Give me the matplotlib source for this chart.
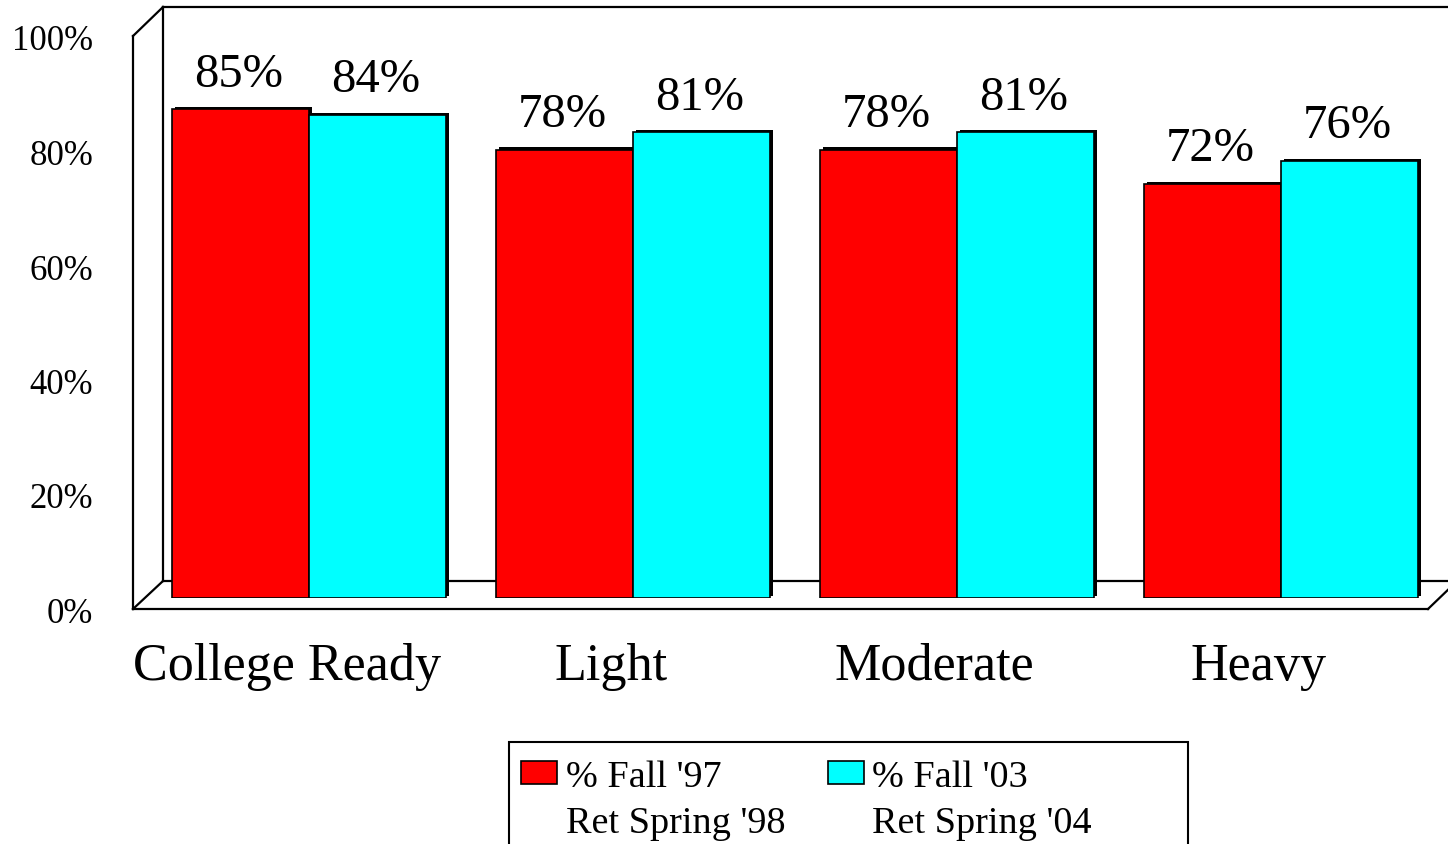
import matplotlib
matplotlib.use("Agg")
import matplotlib.pyplot as plt
import matplotlib.patheffects as pe
from matplotlib.lines import Line2D
from matplotlib.patches import Rectangle
import numpy as np

categories = ["College Ready", "Light", "Moderate", "Heavy"]
fall97 = [85, 78, 78, 72]
fall03 = [84, 81, 81, 76]
series_labels = ["% Fall '97\nRet Spring '98", "% Fall '03\nRet Spring '04"]
series_colors = ["#FF0000", "#00FFFF"]
yticks = [0, 20, 40, 60, 80, 100]
ytick_labels = ["0%", "20%", "40%", "60%", "80%", "100%"]

W, H = 1448, 845
plt.rcParams["font.family"] = ["Liberation Serif", "DejaVu Serif"]
fig = plt.figure(figsize=(W / 100, H / 100), dpi=100)


def fx(x):
    return x / W


def fy(y):
    return 1 - y / H


def fline(xs, ys, z, lw=1.6):
    fig.add_artist(Line2D([fx(v) for v in xs], [fy(v) for v in ys],
                          transform=fig.transFigure, color="black",
                          lw=lw, zorder=z, solid_capstyle="projecting"))


# back wall and floor (behind the bars)
fline([163, 163], [8, 582], -1)
fline([163, W + 5], [8, 8], -1)
fline([163, W + 5], [582, 582], -1)
fline([133, 163], [610, 582], -1)
fline([133, 163], [37, 8], -1)

# bar plane axes
ax = fig.add_axes([fx(147), fy(599), fx(1443) - fx(147), (599 - 24) / H])
ax.set_xlim(-0.5, 3.5)
ax.set_ylim(0, 100)
ax.patch.set_alpha(0)
for s in ax.spines.values():
    s.set_visible(False)
ax.set_xticks([])
ax.set_yticks([])

x = np.arange(len(categories))
w = 137 / 324
shadow = [pe.SimplePatchShadow(offset=(1.8, 1.8), shadow_rgbFace="black", alpha=1.0),
          pe.Normal()]
for vals, off, col in [(fall97, -w / 2, series_colors[0]), (fall03, w / 2, series_colors[1])]:
    bars = ax.bar(x + off, vals, width=w, color=col, edgecolor="black", linewidth=1.2)
    for b, v in zip(bars, vals):
        b.set_path_effects(shadow)
        ax.annotate(f"{v}%", xy=(b.get_x() + b.get_width() / 2, v),
                    xytext=(-1.5, 17), textcoords="offset points",
                    ha="center", va="baseline", fontsize=35)

for i, c in enumerate(categories):
    ax.annotate(c, xy=(i, 0), xytext=(-16, -58), textcoords="offset points",
                ha="center", va="baseline", fontsize=37.5)

# front axis with percentage ticks
ax2 = fig.add_axes([fx(133), fy(610.5), 0.001, (610.5 - 38) / H])
ax2.set_ylim(0, 100)
ax2.patch.set_alpha(0)
for s in ax2.spines.values():
    s.set_visible(False)
ax2.set_xticks([])
ax2.set_yticks(yticks)
ax2.set_yticklabels(ytick_labels, fontsize=25)
ax2.tick_params(axis="y", length=0, pad=28.5)

# front edges of the frame
fline([133, 133], [37, 610], 5)
fline([133, 1428], [610, 610], 5)
fline([1428, W + 5], [610, 586], 5)

# legend
fig.add_artist(Rectangle((fx(509), fy(880)), fx(1188) - fx(509), (880 - 743) / H,
                         transform=fig.transFigure, facecolor="white",
                         edgecolor="black", lw=1.5, zorder=6))
for (sx, tx), lab, col in zip([(521, 566), (828, 872)], series_labels, series_colors):
    fig.add_artist(Rectangle((fx(sx), fy(785)), fx(36), 23 / H,
                             transform=fig.transFigure, facecolor=col,
                             edgecolor="black", lw=1.2, zorder=7))
    l1, l2 = lab.split("\n")
    fig.text(fx(tx), fy(787), l1, fontsize=27.5, ha="left", va="baseline", zorder=7)
    fig.text(fx(tx), fy(833), l2, fontsize=27.5, ha="left", va="baseline", zorder=7)

fig.savefig("out.png", dpi=100)
